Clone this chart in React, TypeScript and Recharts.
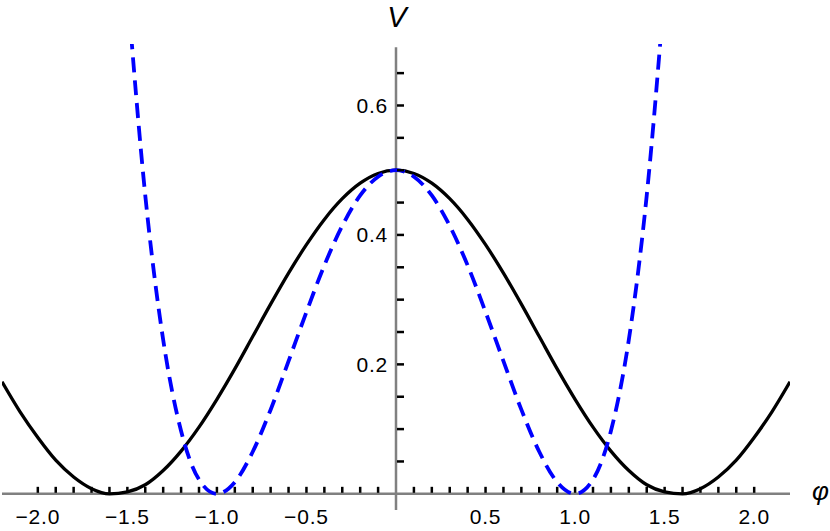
import { LineChart, Line, XAxis, YAxis, ReferenceLine, ReferenceDot } from 'recharts'

// sample points along phi
const phiValues = [
  -2.2, -2.1, -2.0, -1.9, -1.8, -1.7, -1.6, -1.5, -1.4, -1.3, -1.2, -1.1, -1.0, -0.9, -0.8, -0.7, -0.6, -0.5, -0.4, -0.3, -0.2, -0.1,
  0,
  0.1, 0.2, 0.3, 0.4, 0.5, 0.6, 0.7, 0.8, 0.9, 1.0, 1.1, 1.2, 1.3, 1.4, 1.5, 1.6, 1.7, 1.8, 1.9, 2.0, 2.1, 2.2,
]

// solid black potential
const solidV = [
  0.173, 0.127, 0.087, 0.052, 0.026, 0.008, 0.0, 0.003, 0.014, 0.036, 0.066, 0.103, 0.146, 0.193, 0.243, 0.293, 0.341, 0.385, 0.424, 0.456, 0.48, 0.495,
  0.5,
  0.495, 0.48, 0.456, 0.424, 0.385, 0.341, 0.293, 0.243, 0.193, 0.146, 0.103, 0.066, 0.036, 0.014, 0.003, 0.0, 0.008, 0.026, 0.052, 0.087, 0.127, 0.173,
]

// dashed blue potential
const dashedV = [
  null, null, null, null, null, null, null, 0.781, 0.461, 0.238, 0.097, 0.022, 0.0, 0.018, 0.065, 0.13, 0.205, 0.281, 0.353, 0.414, 0.461, 0.49,
  0.5,
  0.49, 0.461, 0.414, 0.353, 0.281, 0.205, 0.13, 0.065, 0.018, 0.0, 0.022, 0.097, 0.238, 0.461, 0.781, null, null, null, null, null, null, null,
]

const xTicks = [
  -2.0, -1.9, -1.8, -1.7, -1.6, -1.5, -1.4, -1.3, -1.2, -1.1, -1.0, -0.9, -0.8, -0.7, -0.6, -0.5, -0.4, -0.3, -0.2, -0.1,
  0.1, 0.2, 0.3, 0.4, 0.5, 0.6, 0.7, 0.8, 0.9, 1.0, 1.1, 1.2, 1.3, 1.4, 1.5, 1.6, 1.7, 1.8, 1.9, 2.0,
]
const xTickLabels = [-2.0, -1.5, -1.0, -0.5, 0.5, 1.0, 1.5, 2.0]
const yTicks = [0.05, 0.1, 0.15, 0.2, 0.25, 0.3, 0.35, 0.4, 0.45, 0.5, 0.55, 0.6, 0.65]
const yTickLabels = [0.2, 0.4, 0.6]

const data = phiValues.map((phi, i) => ({ phi, solid: solidV[i], dashed: dashedV[i] }))

const AXIS_GRAY = '#808080'
const FONT = '"Liberation Sans", Arial, sans-serif'

const fmt = (v: number) => v.toFixed(1).replace('-', '\u2212')

export default function App() {
  return (
    <div style={{ position: 'absolute', left: 0, top: 0, background: '#fff' }}>
      <LineChart width={830} height={531} data={data} margin={{ top: 44, right: 40, bottom: 21, left: 2 }}>
        <XAxis dataKey="phi" type="number" domain={[-2.2, 2.2]} allowDataOverflow hide />
        <YAxis type="number" domain={[-0.025, 0.695]} allowDataOverflow hide />

        <ReferenceLine y={0} stroke={AXIS_GRAY} strokeWidth={2.5} />
        <ReferenceLine
          segment={[
            { x: 0, y: -0.025 },
            { x: 0, y: 0.69 },
          ]}
          stroke={AXIS_GRAY}
          strokeWidth={2.5}
        />

        <Line
          dataKey="solid"
          type="monotone"
          stroke="#000"
          strokeWidth={3.3}
          dot={false}
          activeDot={false}
          isAnimationActive={false}
        />
        <Line
          dataKey="dashed"
          type="monotone"
          stroke="#0000ff"
          strokeWidth={3.8}
          strokeDasharray="15 8"
          dot={false}
          activeDot={false}
          isAnimationActive={false}
        />

        {xTicks.map((t) => (
          <ReferenceDot
            key={'xt' + t}
            x={t}
            y={0}
            shape={(p: any) => (
              <g>
                <line x1={p.cx} x2={p.cx} y1={p.cy - 1} y2={p.cy - 7} stroke="#000" strokeWidth={2.5} />
                {xTickLabels.includes(t) && (
                  <text x={p.cx} y={p.cy + 30} textAnchor="middle" fontFamily={FONT} fontSize={21} letterSpacing={0.8} fill="#000">
                    {fmt(t)}
                  </text>
                )}
              </g>
            )}
          />
        ))}

        {yTicks.map((t) => (
          <ReferenceDot
            key={'yt' + t}
            x={0}
            y={t}
            shape={(p: any) => (
              <g>
                <line x1={p.cx + 1} x2={p.cx + 8} y1={p.cy} y2={p.cy} stroke="#000" strokeWidth={2.5} />
                {yTickLabels.includes(t) && (
                  <text x={p.cx - 8} y={p.cy + 7.5} textAnchor="end" fontFamily={FONT} fontSize={21} letterSpacing={0.8} fill="#000">
                    {fmt(t)}
                  </text>
                )}
              </g>
            )}
          />
        ))}

        <ReferenceDot
          x={0}
          y={0.69}
          shape={(p: any) => (
            <text x={p.cx + 1} y={p.cy - 20} textAnchor="middle" fontFamily={FONT} fontStyle="italic" fontSize={29} fill="#000">
              V
            </text>
          )}
        />
        <ReferenceDot
          x={2.2}
          y={0}
          shape={(p: any) => (
            <text x={p.cx + 22} y={p.cy + 6} textAnchor="start" fontFamily={FONT} fontStyle="italic" fontSize={26} fill="#000">
              φ
            </text>
          )}
        />
      </LineChart>
    </div>
  )
}
